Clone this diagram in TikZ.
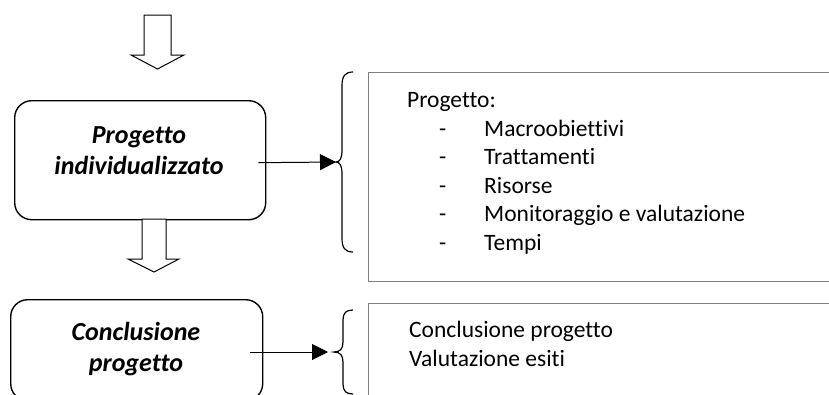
\documentclass[tikz,border=0pt]{standalone}
\usepackage{fontspec}
\setmainfont{Carlito}[Ligatures=NoCommon]
\usepackage{tikz}
\usetikzlibrary{positioning}
\usetikzlibrary{arrows.meta}

\tikzset{
  stage/.style={draw,line width=1.4pt,rounded corners=17pt,anchor=north west,inner sep=0pt},
  infobox/.style={draw=gray,line width=1.3pt,anchor=north west,inner sep=0pt},
  stagetext/.style={font=\fontsize{26}{31}\selectfont\bfseries\itshape,align=center},
  listtext/.style={font=\fontsize{23.5}{29}\selectfont,anchor=base west,inner sep=0pt},
  blockarrow/.style={draw,line width=1pt,fill=white,line join=miter},
}

\begin{document}
\begin{tikzpicture}[x=1pt,y=-1pt,>={Triangle[length=16pt,width=16pt]}]
  \clip (0,0) rectangle (829,394);
  % hollow arrow on top
  \draw[blockarrow] (144,15) -- (171,15) -- (171,55) -- (184,55) -- (157.5,69) -- (131,55) -- (144,55) -- cycle;
  % first stage
  \node[stage,minimum width=251pt,minimum height=119pt] (proj) at (14,100) {};
  \node[stagetext] (projtxt) at (139,151) {Progetto\\individualizzato};
  % hollow arrow between the stages
  \draw[blockarrow] (142,219) -- (166,219) -- (166,259) -- (179,259) -- (154,272) -- (128,259) -- (142,259) -- cycle;
  % second stage
  \node[stage,minimum width=252pt,minimum height=101pt] (conc) at (10,299) {};
  \node[stagetext] (conctxt) at (136,349) {Conclusione\\progetto};
  % boxes on the right
  \node[infobox,minimum width=480pt,minimum height=209pt] (projbox) at (368,72) {};
  \node[infobox,minimum width=480pt,minimum height=110pt] (concbox) at (368,303) {};
  % braces, tips at b1 and b2
  \coordinate (b1) at (336,162);
  \coordinate (b2) at (328,352);
  \draw[line width=1.2pt] (353,72) .. controls (345,72) and (342,76) .. (342,86) -- (342,150)
    .. controls (342,158) and (340,162) .. (b1) .. controls (340,162) and (342,166) .. (342,174)
    -- (342,238) .. controls (342,248) and (345,252) .. (353,252);
  \draw[line width=1.2pt] (353,310) .. controls (346,310) and (343,313) .. (343,320) -- (343,342)
    .. controls (343,349) and (340,352) .. (334,352) .. controls (340,352) and (343,355) .. (343,362)
    -- (343,384) .. controls (343,391) and (346,394) .. (353,394);
  % connectors
  \draw[->,line width=1pt] ([xshift=-8pt,yshift=-2.5pt]proj.east) -- (b1);
  \draw[->,line width=1pt] (250,352) -- (b2);
  % project list
  \node[listtext] (ptitle) at (407,107) {Progetto:};
  \node[listtext] (d1) at (439,136) {-};
  \node[listtext] (i1) at (484,136) {Macroobiettivi};
  \node[listtext] (d2) at (439,164.5) {-};
  \node[listtext] (i2) at (484,164.5) {Trattamenti};
  \node[listtext] (d3) at (439,193) {-};
  \node[listtext] (i3) at (484,193) {Risorse};
  \node[listtext] (d4) at (439,221.5) {-};
  \node[listtext] (i4) at (484,221.5) {Monitoraggio e valutazione};
  \node[listtext] (d5) at (439,250) {-};
  \node[listtext] (i5) at (484,250) {Tempi};
  % conclusion list
  \node[listtext] (c1) at (409,337) {Conclusione progetto};
  \node[listtext] (c2) at (409,366) {Valutazione esiti};
\end{tikzpicture}
\end{document}
